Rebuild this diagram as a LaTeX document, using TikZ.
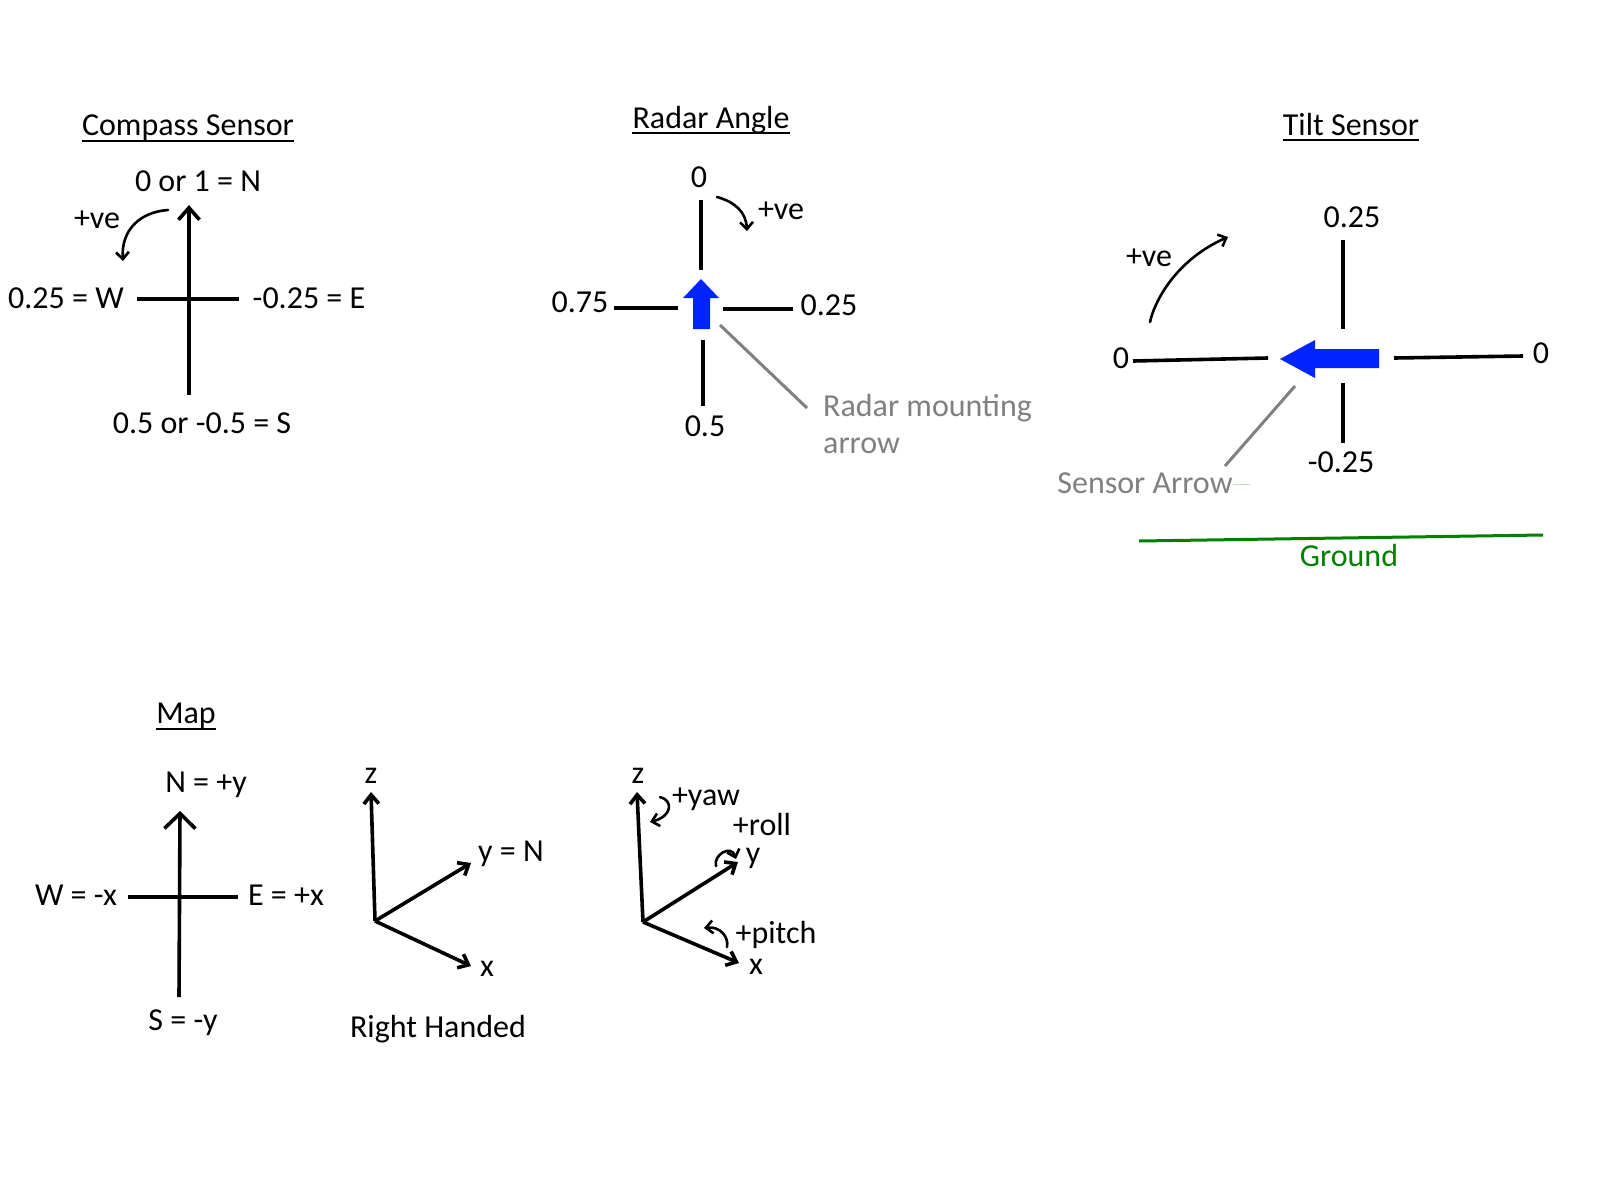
\documentclass[tikz,border=0pt]{standalone}
\usepackage{fontspec}
\setmainfont{Carlito}
\usetikzlibrary{arrows.meta}
\definecolor{arrowblue}{RGB}{0,36,255}
\definecolor{leadgray}{RGB}{128,128,128}
\definecolor{groundgreen}{RGB}{0,128,0}
\begin{document}
\begin{tikzpicture}[x=1pt,y=-1pt,
  lbl/.style={font=\fontsize{32}{38}\selectfont, inner sep=0pt, anchor=base},
  graylbl/.style={lbl, text=leadgray},
  axisline/.style={line width=3.6pt},
  bigtip/.style={-{Straight Barb[length=12pt,width=21pt]}},
  maptip/.style={-{Straight Barb[length=15pt,width=31pt]}},
  smalltip/.style={-{Straight Barb[length=9pt,width=15pt]}},
  curvetip/.style={line width=2.6pt, line cap=round, -{Straight Barb[length=7pt,width=13pt]}},
  leader/.style={draw=leadgray, line width=3pt},
  ulined/.style={line width=1.8pt}
]
\useasboundingbox (0,0) rectangle (1600,1200);
\fill[white] (0,0) rectangle (1600,1200);

% ================= Compass Sensor =================
\node[lbl] (ctitle) at (188,135) {Compass Sensor};
\draw[ulined] ([yshift=-6pt]ctitle.base west) -- ([yshift=-6pt]ctitle.base east);
\coordinate (cS) at (189,395);
\coordinate (cN) at (189,205);
\coordinate (cW) at (137,299);
\coordinate (cE) at (239,299);
\draw[axisline, bigtip] (cS) -- (cN);
\draw[axisline] (cW) -- (cE);
\node[lbl] (cnl) at (198,191) {0 or 1 = N};
\node[lbl] (cwl) at (66,308) {0.25 = W};
\node[lbl] (cel) at (309,308) {-0.25 = E};
\node[lbl] (csl) at (202,433) {0.5 or -0.5 = S};
\node[lbl] (cve) at (97,228) {+ve};
\coordinate (cr1) at (168,210);
\coordinate (cr2) at (123,261);
\draw[curvetip] (cr1) .. controls (140,212) and (121,230) .. (cr2);

% ================= Radar Angle =================
\node[lbl] (rtitle) at (711,128) {Radar Angle};
\draw[ulined] ([yshift=-5pt]rtitle.base west) -- ([yshift=-5pt]rtitle.base east);
\coordinate (rt1) at (701,200);
\coordinate (rt2) at (701,270);
\coordinate (rl1) at (614,308);
\coordinate (rl2) at (678,308);
\coordinate (rr1) at (723,309);
\coordinate (rr2) at (793,309);
\coordinate (rb1) at (703,340);
\coordinate (rb2) at (703,406);
\draw[axisline] (rt1) -- (rt2);
\draw[axisline] (rl1) -- (rl2);
\draw[axisline] (rr1) -- (rr2);
\draw[axisline] (rb1) -- (rb2);
\fill[arrowblue] (701,279) -- (719,298) -- (710,298) -- (710,329) -- (693,329) -- (693,298) -- (683,298) -- cycle;
\node[lbl] (r0) at (699,187) {0};
\node[lbl] (rve) at (781,219) {+ve};
\node[lbl] (r75) at (580,312) {0.75};
\node[lbl] (r25) at (829,315) {0.25};
\node[lbl] (r5) at (705,436) {0.5};
\coordinate (rc1) at (717,197);
\coordinate (rc2) at (747,231);
\draw[curvetip] (rc1) .. controls (735,202) and (746,212) .. (rc2);
\node[graylbl, anchor=base west] (rm1) at (823,416) {Radar mounting};
\node[graylbl, anchor=base west] (rm2) at (823,453) {arrow};
\coordinate (rlead1) at (720,325);
\coordinate (rlead2) at (807,408);
\draw[leader] (rlead1) -- (rlead2);

% ================= Tilt Sensor =================
\node[lbl] (ttitle) at (1351,135) {Tilt Sensor};
\draw[ulined] ([yshift=-5pt]ttitle.base west) -- ([yshift=-5pt]ttitle.base east);
\coordinate (tt1) at (1343,240);
\coordinate (tt2) at (1343,329);
\coordinate (tb1) at (1343,383);
\coordinate (tb2) at (1343,443);
\coordinate (tl1) at (1133,361);
\coordinate (tl2) at (1268,358);
\coordinate (tr1) at (1394,358);
\coordinate (tr2) at (1523,356);
\draw[axisline] (tt1) -- (tt2);
\draw[axisline] (tb1) -- (tb2);
\draw[axisline] (tl1) -- (tl2);
\draw[axisline] (tr1) -- (tr2);
\fill[arrowblue] (1280,359) -- (1315,340) -- (1315,349) -- (1379,349) -- (1379,368) -- (1315,368) -- (1315,378) -- cycle;
\node[lbl] (t25) at (1352,227) {0.25};
\node[lbl] (tm25) at (1341,472) {-0.25};
\node[lbl] (t0l) at (1121,368) {0};
\node[lbl] (t0r) at (1541,363) {0};
\node[lbl] (tve) at (1149,266) {+ve};
\coordinate (tc1) at (1150,322);
\coordinate (tc2) at (1228,237);
\draw[curvetip] (tc1) .. controls (1156,296) and (1180,258) .. (tc2);
\node[graylbl] (tsa) at (1145,493) {Sensor Arrow};
\coordinate (tlead1) at (1295,386);
\coordinate (tlead2) at (1225,466);
\draw[leader] (tlead1) -- (tlead2);
\coordinate (tfaint) at (1250,484);
\draw[draw=groundgreen!25, line width=1pt] (tsa.base east |- tfaint) -- (tfaint);
\coordinate (g1) at (1139,541);
\coordinate (g2) at (1543,535);
\draw[draw=groundgreen, line width=3pt] (g1) -- (g2);
\node[lbl, text=groundgreen] (gl) at (1349,566) {Ground};

% ================= Map =================
\node[lbl] (mtitle) at (186,723) {Map};
\draw[ulined] ([yshift=-6pt]mtitle.base west) -- ([yshift=-6pt]mtitle.base east);
\coordinate (mS) at (179,997);
\coordinate (mN) at (180,811);
\coordinate (mW) at (128,897);
\coordinate (mE) at (238,897);
\draw[axisline, maptip] (mS) -- (mN);
\draw[axisline] (mW) -- (mE);
\node[lbl] (mnl) at (206,792) {N = +y};
\node[lbl] (mwl) at (76,905) {W = -x};
\node[lbl] (mel) at (286,905) {E = +x};
\node[lbl] (msl) at (183,1030) {S = -y};

% Right-handed axes
\coordinate (o1) at (375,921);
\coordinate (z1) at (371,792);
\coordinate (y1) at (471,863);
\coordinate (x1) at (471,966);
\draw[axisline, smalltip] (o1) -- (z1);
\draw[axisline, smalltip] (o1) -- (y1);
\draw[axisline, smalltip] (o1) -- (x1);
\node[lbl] (z1l) at (371,783) {z};
\node[lbl] (y1l) at (511,861) {y = N};
\node[lbl] (x1l) at (487,976) {x};
\node[lbl] (rh) at (438,1037) {Right Handed};

% Yaw/roll/pitch axes
\coordinate (o2) at (643,922);
\coordinate (z2) at (637,792);
\coordinate (y2) at (738,862);
\coordinate (x2) at (739,963);
\draw[axisline, smalltip] (o2) -- (z2);
\draw[axisline, smalltip] (o2) -- (y2);
\draw[axisline, smalltip] (o2) -- (x2);
\node[lbl] (z2l) at (638,783) {z};
\node[lbl] (yawl) at (706,805) {+yaw};
\node[lbl] (rolll) at (762,835) {+roll};
\node[lbl] (y2l) at (753,863) {y};
\node[lbl] (pitchl) at (776,943) {+pitch};
\node[lbl] (x2l) at (756,974) {x};
\coordinate (yw1) at (660,797);
\coordinate (yw2) at (650,822);
\draw[curvetip] (yw1) .. controls (673,800) and (673,816) .. (yw2);
\coordinate (rl1b) at (716,866);
\coordinate (rl2b) at (736,859);
\draw[curvetip] (rl1b) .. controls (713,855) and (731,844) .. (rl2b);
\coordinate (pt1) at (727,947);
\coordinate (pt2) at (704,928);
\draw[curvetip] (pt1) .. controls (729,937) and (720,926) .. (pt2);
\end{tikzpicture}
\end{document}
